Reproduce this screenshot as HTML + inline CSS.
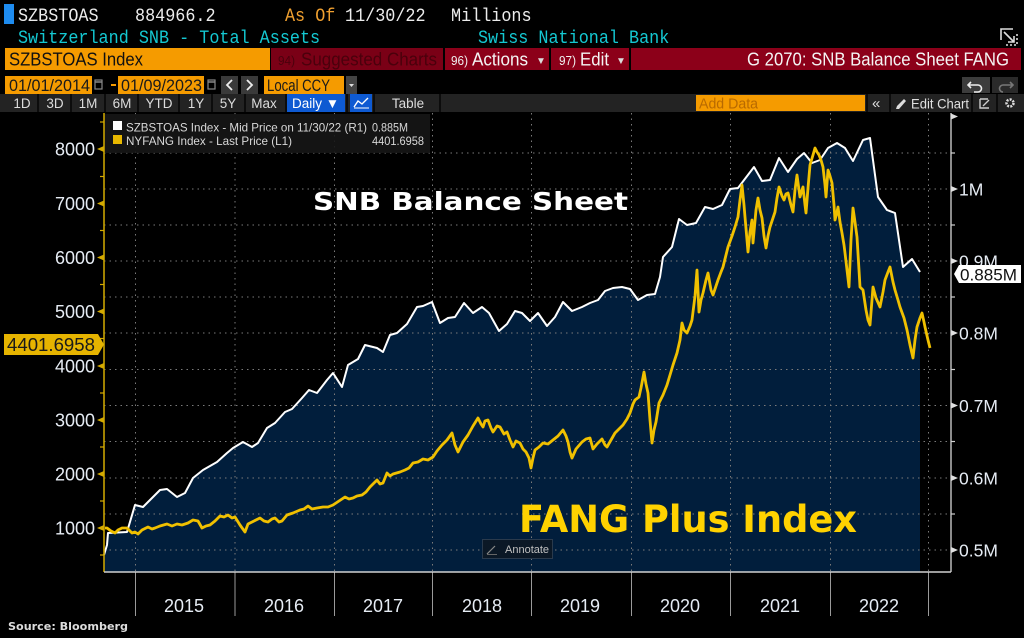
<!DOCTYPE html>
<html><head><meta charset="utf-8"><style>
html,body{margin:0;padding:0;background:#000;width:1024px;height:638px;overflow:hidden}
svg{display:block}
.m{font-family:"Liberation Mono",monospace}
.s{font-family:"Liberation Sans",sans-serif}
.b{font-family:"DejaVu Sans","Liberation Sans",sans-serif;font-weight:bold}
</style></head><body>
<svg width="1024" height="638" viewBox="0 0 1024 638" xmlns="http://www.w3.org/2000/svg">
<rect x="0" y="0" width="1024" height="638" fill="#000"/>

<!-- Header row 1 -->
<rect x="4" y="4" width="10" height="20" fill="#1e8cf0"/>
<g class="m" font-size="16.8" fill="#ececec">
<text x="18" y="21" transform="translate(0,-2.1) scale(1,1.1)">SZBSTOAS</text>
<text x="135" y="21" transform="translate(0,-2.1) scale(1,1.1)">884966.2</text>
<text x="285" y="21" fill="#f0a030" transform="translate(0,-2.1) scale(1,1.1)">As Of</text>
<text x="345" y="21" transform="translate(0,-2.1) scale(1,1.1)">11/30/22</text>
<text x="451" y="21" transform="translate(0,-2.1) scale(1,1.1)">Millions</text>
<text x="18" y="43" fill="#14c8d2" transform="translate(0,-4.3) scale(1,1.1)">Switzerland SNB - Total Assets</text>
<text x="478" y="43" fill="#14c8d2" transform="translate(0,-4.3) scale(1,1.1)">Swiss National Bank</text>
</g>
<!-- top right icon -->
<g stroke="#ddd" stroke-width="1.6" fill="none">
<path d="M1001 40 V29 H1013"/>
<path d="M1004 32 L1014 42 M1014 36 V42 H1008"/>
<path d="M1017 34 V45 H1005" stroke-dasharray="2,2"/>
</g>

<!-- Header row 3 -->
<rect x="5" y="48" width="265" height="22" fill="#f59b00"/>
<text class="s" x="9" y="65.5" font-size="18" fill="#111" textLength="134" lengthAdjust="spacingAndGlyphs">SZBSTOAS Index</text>
<rect x="271" y="48" width="172" height="22" fill="#7a0016"/>
<text class="s" x="278" y="65" font-size="13" fill="#4a000c" textLength="17" lengthAdjust="spacingAndGlyphs">94)</text>
<text class="s" x="301" y="65.5" font-size="18" fill="#4a000c" textLength="136" lengthAdjust="spacingAndGlyphs">Suggested Charts</text>
<rect x="445" y="48" width="104" height="22" fill="#8c0019"/>
<text class="s" x="451" y="65" font-size="13" fill="#f0f0f0" textLength="17" lengthAdjust="spacingAndGlyphs">96)</text>
<text class="s" x="472" y="65.5" font-size="18" fill="#f4f4f4" textLength="56" lengthAdjust="spacingAndGlyphs">Actions</text>
<text class="s" x="536" y="64" font-size="10" fill="#ddd">▼</text>
<rect x="551" y="48" width="78" height="22" fill="#8c0019"/>
<text class="s" x="559" y="65" font-size="13" fill="#f0f0f0" textLength="17" lengthAdjust="spacingAndGlyphs">97)</text>
<text class="s" x="580" y="65.5" font-size="18" fill="#f4f4f4" textLength="29" lengthAdjust="spacingAndGlyphs">Edit</text>
<text class="s" x="616" y="64" font-size="10" fill="#ddd">▼</text>
<rect x="631" y="48" width="390" height="22" fill="#8c0019"/>
<text class="s" x="747" y="65.5" font-size="18" fill="#f4f4f4" textLength="262" lengthAdjust="spacingAndGlyphs">G 2070: SNB Balance Sheet FANG</text>

<!-- Row 4 -->
<rect x="5" y="76" width="87" height="18" fill="#f59b00"/>
<text class="s" x="9" y="91" font-size="16.5" fill="#1a1a1a" textLength="81" lengthAdjust="spacingAndGlyphs">01/01/2014</text>
<rect x="95" y="80" width="7" height="9" fill="none" stroke="#888" stroke-width="1.2"/>
<line x1="95" y1="82" x2="102" y2="82" stroke="#888" stroke-width="1.5"/>
<rect x="111" y="84" width="5" height="2" fill="#f59b00"/>
<rect x="118" y="76" width="86" height="18" fill="#f59b00"/>
<text class="s" x="121" y="91" font-size="16.5" fill="#1a1a1a" textLength="81" lengthAdjust="spacingAndGlyphs">01/09/2023</text>
<rect x="208" y="80" width="7" height="9" fill="none" stroke="#888" stroke-width="1.2"/>
<line x1="208" y1="82" x2="215" y2="82" stroke="#888" stroke-width="1.5"/>
<rect x="221" y="76" width="17" height="18" fill="#3a3a3a"/>
<path d="M232 80 L227 85 L232 90" stroke="#eee" stroke-width="1.8" fill="none"/>
<rect x="241" y="76" width="17" height="18" fill="#3a3a3a"/>
<path d="M247 80 L252 85 L247 90" stroke="#eee" stroke-width="1.8" fill="none"/>
<rect x="264" y="76" width="80" height="18" fill="#f59b00"/>
<text class="s" x="267" y="91" font-size="16.5" fill="#1a1a1a" textLength="63" lengthAdjust="spacingAndGlyphs">Local CCY</text>
<rect x="346" y="76" width="11" height="18" fill="#444"/>
<path d="M349 84 L354 84 L351.5 87 Z" fill="#ddd"/>
<rect x="962" y="77" width="28" height="16" fill="#3c3c3c"/>
<path d="M971 82 L968 85 L971 88 M968 85 H978 A3.5 3.5 0 0 1 978 92 H974" stroke="#eee" stroke-width="1.6" fill="none"/>
<rect x="992" y="77" width="26" height="16" fill="#2a2a2a"/>
<path d="M1010 82 L1013 85 L1010 88 M1013 85 H1003 A3.5 3.5 0 0 0 1003 92" stroke="#777" stroke-width="1.6" fill="none"/>

<!-- Row 5 -->
<rect x="0" y="94" width="1024" height="18" fill="#232323"/>
<g stroke="#0c0c0c" stroke-width="2">
<line x1="38" y1="94" x2="38" y2="112"/><line x1="71" y1="94" x2="71" y2="112"/>
<line x1="105" y1="94" x2="105" y2="112"/><line x1="138" y1="94" x2="138" y2="112"/>
<line x1="179" y1="94" x2="179" y2="112"/><line x1="212" y1="94" x2="212" y2="112"/>
<line x1="245" y1="94" x2="245" y2="112"/><line x1="286" y1="94" x2="286" y2="112"/>
<line x1="347" y1="94" x2="347" y2="112"/><line x1="374" y1="94" x2="374" y2="112"/>
<line x1="440" y1="94" x2="440" y2="112"/>
<line x1="867" y1="94" x2="867" y2="112"/><line x1="890" y1="94" x2="890" y2="112"/>
<line x1="972" y1="94" x2="972" y2="112"/><line x1="997" y1="94" x2="997" y2="112"/>
</g>
<g class="s" font-size="13.5" fill="#dcdcdc" text-anchor="middle">
<text x="22" y="108">1D</text><text x="55" y="108">3D</text><text x="88" y="108">1M</text>
<text x="122" y="108">6M</text><text x="159" y="108">YTD</text><text x="196" y="108">1Y</text>
<text x="228" y="108">5Y</text><text x="264" y="108">Max</text><text x="408" y="108">Table</text>
</g>
<rect x="287" y="94" width="58" height="18" fill="#0e5ad2"/>
<text class="s" x="292" y="108" font-size="13.5" fill="#fff">Daily ▼</text>
<rect x="350" y="94" width="22" height="18" fill="#0e5ad2"/>
<path d="M354 107 L358 101 L362 104 L368 98" stroke="#fff" stroke-width="1.4" fill="none"/>
<line x1="354" y1="108" x2="369" y2="108" stroke="#fff" stroke-width="1"/>
<rect x="696" y="95" width="169" height="16" fill="#f59b00"/>
<text class="s" x="699" y="108.5" font-size="15" fill="#b86a00" textLength="59" lengthAdjust="spacingAndGlyphs">Add Data</text>
<text class="s" x="872" y="108" font-size="15" fill="#ddd">«</text>
<path d="M896 109 L899 109 L906 101 L904 99 L897 106 Z" fill="#ddd"/>
<text class="s" x="911" y="108.5" font-size="14" fill="#e0e0e0" textLength="58" lengthAdjust="spacingAndGlyphs">Edit Chart</text>
<path d="M980 99 H988 M980 99 V108 H989 M983 106 L989 100" stroke="#ccc" stroke-width="1.4" fill="none"/>
<circle cx="1010" cy="103" r="3.5" fill="none" stroke="#ddd" stroke-width="2.5" stroke-dasharray="2,1.2"/>
<circle cx="1010" cy="103" r="1.4" fill="#232323"/>

<!-- ===== Chart ===== -->
<polygon fill="#011e3c" points="104,555 107,545 108,533 127,532 135,505 143,507 160,490 167,489 177,497 185,493 193,478 203,470 217,462 227,453 233,448 243,442 252,447 258,443 267,428 275,423 285,412 292,409 302,398 309,390 317,393 327,380 333,373 342,387 348,365 358,359 365,345 377,348 383,352 390,335 397,333 407,324 417,307 423,306 432,302 440,323 448,318 455,317 464,303 473,313 482,307 489,313 499,331 507,324 515,311 522,313 530,321 538,313 547,326 555,317 563,302 572,311 582,307 590,303 598,300 605,291 613,288 622,287 630,289 638,300 647,295 655,294 660,277 663,257 672,247 679,219 687,225 696,223 705,207 713,209 722,205 730,189 738,188 754,167 762,181 770,180 779,158 788,172 797,159 804,153 812,163 820,160 828,148 837,143 845,148 853,161 863,140 870,138 878,197 887,210 895,213 903,267 912,259 920,272 920,572 104,572"/>

<g stroke="#7a7a7a" stroke-width="1" stroke-dasharray="1.5,4">
<line x1="104" y1="153" x2="951" y2="153"/><line x1="104" y1="189" x2="951" y2="189"/>
<line x1="104" y1="225" x2="951" y2="225"/><line x1="104" y1="261" x2="951" y2="261"/>
<line x1="104" y1="297" x2="951" y2="297"/><line x1="104" y1="333" x2="951" y2="333"/>
<line x1="104" y1="369.5" x2="951" y2="369.5"/><line x1="104" y1="405.5" x2="951" y2="405.5"/>
<line x1="104" y1="441.5" x2="951" y2="441.5"/><line x1="104" y1="478" x2="951" y2="478"/>
<line x1="104" y1="514" x2="951" y2="514"/><line x1="104" y1="550" x2="951" y2="550"/>
<line x1="135.5" y1="113" x2="135.5" y2="572"/><line x1="235" y1="113" x2="235" y2="572"/>
<line x1="334.5" y1="113" x2="334.5" y2="572"/><line x1="432.5" y1="113" x2="432.5" y2="572"/>
<line x1="531.5" y1="113" x2="531.5" y2="572"/><line x1="631.5" y1="113" x2="631.5" y2="572"/>
<line x1="730.5" y1="113" x2="730.5" y2="572"/><line x1="830.5" y1="113" x2="830.5" y2="572"/>
<line x1="928.5" y1="113" x2="928.5" y2="572"/>
</g>
<g stroke="#9a9a9a" stroke-width="1">
<line x1="135.5" y1="572" x2="135.5" y2="616"/><line x1="235" y1="572" x2="235" y2="616"/>
<line x1="334.5" y1="572" x2="334.5" y2="616"/><line x1="432.5" y1="572" x2="432.5" y2="616"/>
<line x1="531.5" y1="572" x2="531.5" y2="616"/><line x1="631.5" y1="572" x2="631.5" y2="616"/>
<line x1="730.5" y1="572" x2="730.5" y2="616"/><line x1="830.5" y1="572" x2="830.5" y2="616"/>
<line x1="928.5" y1="572" x2="928.5" y2="616"/>
</g>

<text class="b" x="313" y="210" font-size="25" fill="#ffffff" textLength="315" lengthAdjust="spacingAndGlyphs">SNB Balance Sheet</text>
<text class="b" x="519" y="532" font-size="37" fill="#ffd200" textLength="338" lengthAdjust="spacingAndGlyphs">FANG Plus Index</text>

<rect x="482.5" y="539.5" width="70" height="19" fill="#0b1826" stroke="#2a3a4c" stroke-width="1"/>
<path d="M487 554 L495 546" stroke="#888" stroke-width="1.2"/>
<line x1="487" y1="554.5" x2="497" y2="554.5" stroke="#666" stroke-width="1"/>
<text class="s" x="505" y="553" font-size="11" fill="#c0c0c0">Annotate</text>

<polyline fill="none" stroke="#ffffff" stroke-width="2" stroke-linejoin="round" points="104,555 107,545 108,533 127,532 135,505 143,507 160,490 167,489 177,497 185,493 193,478 203,470 217,462 227,453 233,448 243,442 252,447 258,443 267,428 275,423 285,412 292,409 302,398 309,390 317,393 327,380 333,373 342,387 348,365 358,359 365,345 377,348 383,352 390,335 397,333 407,324 417,307 423,306 432,302 440,323 448,318 455,317 464,303 473,313 482,307 489,313 499,331 507,324 515,311 522,313 530,321 538,313 547,326 555,317 563,302 572,311 582,307 590,303 598,300 605,291 613,288 622,287 630,289 638,300 647,295 655,294 660,277 663,257 672,247 679,219 687,225 696,223 705,207 713,209 722,205 730,189 738,188 754,167 762,181 770,180 779,158 788,172 797,159 804,153 812,163 820,160 828,148 837,143 845,148 853,161 863,140 870,138 878,197 887,210 895,213 903,267 912,259 920,272"/>

<polyline fill="none" stroke="#f0c000" stroke-width="2.8" stroke-linejoin="round" points="105,528 107,528 111,531 115,533 118,530 122,528 127,528 130,531 132,533 135,532 138,534 142,530 148,527 152,529 155,528 160,526 167,524 172,526 177,524 182,525 188,523 193,520 198,521 202,528 206,526 210,525 215,521 220,516 224,517 228,515 232,518 235,517 240,525 245,532 248,524 254,521 260,518 264,521 268,522 272,519 275,518 279,522 282,521 287,515 293,513 300,510 304,509 308,506 312,509 317,508 323,507 328,507 333,505 339,501 345,497 349,499 353,498 357,496 362,495 366,492 370,487 374,483 377,480 380,484 383,483 387,473 390,476 393,474 400,472 405,470 409,468 413,463 418,462 423,459 428,460 433,457 437,451 442,445 447,440 452,433 455,445 458,452 463,442 468,435 473,426 478,418 481,424 483,427 485,421 488,420 491,428 493,432 497,426 500,427 504,434 507,432 510,440 513,447 516,441 520,443 523,449 526,452 529,458 531,468 533,458 535,450 539,447 543,443 548,444 553,440 558,436 563,430 566,436 568,442 570,452 572,458 576,449 582,442 586,439 590,438 593,449 597,444 602,439 605,445 607,447 611,440 615,433 619,429 623,425 627,419 630,413 633,404 635,400 639,397 641,388 644,372 646,384 648,393 650,420 652,443 654,430 656,422 659,403 663,395 667,385 670,375 673,365 677,353 680,340 682,323 684,330 687,333 690,326 692,320 695,296 697,270 699,312 701,300 703,293 706,280 708,273 711,290 713,295 716,286 718,280 721,272 723,267 726,255 728,247 732,236 735,227 738,217 740,200 742,185 744,205 745,217 747,240 748,252 750,232 752,220 753,243 756,210 758,198 760,210 762,218 764,236 766,248 768,236 770,227 773,218 775,212 777,198 779,187 782,196 784,200 786,194 788,193 791,205 793,212 795,190 797,175 799,190 800,197 802,190 803,187 805,205 806,213 808,188 810,165 813,155 815,148 817,152 819,155 821,160 823,167 825,185 826,197 828,170 830,176 832,183 834,205 835,220 837,212 838,207 840,222 842,233 844,245 845,253 847,270 849,287 851,240 853,208 855,222 857,237 859,270 860,287 863,290 866,310 868,320 870,325 872,300 873,287 876,298 880,307 883,292 885,280 888,272 890,267 893,282 895,290 898,300 900,307 904,318 907,330 910,345 913,358 915,340 917,327 920,318 922,313 924,322 925,327 928,340 930,348"/>

<rect x="104" y="114" width="326" height="39" fill="#161616" fill-opacity="0.9"/>
<rect x="113" y="121" width="9" height="9" fill="#ffffff"/>
<rect x="113" y="135" width="9" height="9" fill="#e8b800"/>
<g class="s" font-size="12" fill="#d8d8d8">
<text x="126" y="131.5" textLength="241" lengthAdjust="spacingAndGlyphs">SZBSTOAS Index - Mid Price on 11/30/22 (R1)</text>
<text x="372" y="131.5" textLength="36" lengthAdjust="spacingAndGlyphs">0.885M</text>
<text x="126" y="145" textLength="166" lengthAdjust="spacingAndGlyphs">NYFANG Index - Last Price (L1)</text>
<text x="372" y="145" textLength="52" lengthAdjust="spacingAndGlyphs">4401.6958</text>
</g>

<line x1="104" y1="113" x2="104" y2="572" stroke="#c8a200" stroke-width="1.6"/>
<line x1="951" y1="113" x2="951" y2="572" stroke="#b0b0b0" stroke-width="1.6"/>
<line x1="104" y1="572" x2="951" y2="572" stroke="#d0d0d0" stroke-width="1.6"/>
<g fill="#d4aa00">
<polygon points="97,149 104,146 104,152"/><polygon points="97,203.5 104,200.5 104,206.5"/>
<polygon points="97,257.5 104,254.5 104,260.5"/><polygon points="97,311.5 104,308.5 104,314.5"/>
<polygon points="97,366 104,363 104,369"/><polygon points="97,420 104,417 104,423"/>
<polygon points="97,474 104,471 104,477"/><polygon points="97,528 104,525 104,531"/>
</g>
<g stroke="#d4aa00" stroke-width="1.2">
<line x1="100" y1="122" x2="104" y2="122"/><line x1="100" y1="176.5" x2="104" y2="176.5"/>
<line x1="100" y1="230.5" x2="104" y2="230.5"/><line x1="100" y1="284.5" x2="104" y2="284.5"/>
<line x1="100" y1="338.5" x2="104" y2="338.5"/><line x1="100" y1="393" x2="104" y2="393"/>
<line x1="100" y1="447" x2="104" y2="447"/><line x1="100" y1="501" x2="104" y2="501"/>
<line x1="100" y1="555" x2="104" y2="555"/>
</g>
<g fill="#e0e0e0">
<polygon points="958,116.5 951,113.5 951,119.5"/><polygon points="958,189 951,186 951,192"/>
<polygon points="958,261 951,258 951,264"/><polygon points="958,333 951,330 951,336"/>
<polygon points="958,405.5 951,402.5 951,408.5"/><polygon points="958,478 951,475 951,481"/>
<polygon points="958,550 951,547 951,553"/>
</g>
<g stroke="#d0d0d0" stroke-width="1.2">
<line x1="951" y1="153" x2="955" y2="153"/><line x1="951" y1="225" x2="955" y2="225"/>
<line x1="951" y1="297" x2="955" y2="297"/><line x1="951" y1="369.5" x2="955" y2="369.5"/>
<line x1="951" y1="441.5" x2="955" y2="441.5"/><line x1="951" y1="514" x2="955" y2="514"/>
</g>

<g class="s" font-size="18" fill="#e6ecf4" text-anchor="end">
<text x="95" y="155.5">8000</text><text x="95" y="210">7000</text>
<text x="95" y="264">6000</text><text x="95" y="318">5000</text>
<text x="95" y="372.5">4000</text><text x="95" y="426.5">3000</text>
<text x="95" y="480.5">2000</text><text x="95" y="534.5">1000</text>
</g>
<g class="s" font-size="17.5" fill="#e6ecf4">
<text x="959" y="195.5">1M</text><text x="959" y="267.5">0.9M</text>
<text x="959" y="339.5">0.8M</text><text x="959" y="412">0.7M</text>
<text x="959" y="484.5">0.6M</text><text x="959" y="556.5">0.5M</text>
</g>
<g class="s" font-size="18" fill="#e6ecf4" text-anchor="middle">
<text x="184" y="612">2015</text><text x="284" y="612">2016</text>
<text x="383" y="612">2017</text><text x="482" y="612">2018</text>
<text x="580" y="612">2019</text><text x="680" y="612">2020</text>
<text x="780" y="612">2021</text><text x="879" y="612">2022</text>
</g>

<polygon points="4,334 98,334 104,344.5 98,355 4,355" fill="#e6b400"/>
<text class="s" x="7" y="351" font-size="18" fill="#1a1a1a" textLength="88" lengthAdjust="spacingAndGlyphs">4401.6958</text>
<polygon points="954,274 959,265 1021,265 1021,283 959,283" fill="#ffffff"/>
<text class="s" x="960" y="280.5" font-size="17" fill="#111" textLength="57" lengthAdjust="spacingAndGlyphs">0.885M</text>

<text class="b" x="8" y="630" font-size="10.5" fill="#dddddd" textLength="120" lengthAdjust="spacingAndGlyphs">Source: Bloomberg</text>
</svg>
</body></html>
